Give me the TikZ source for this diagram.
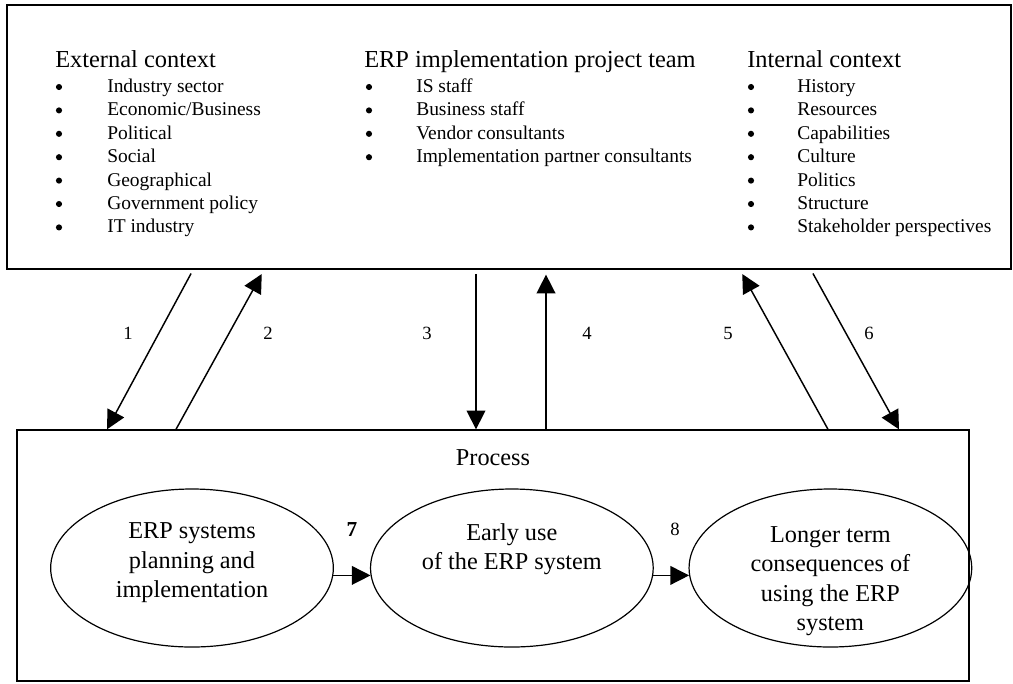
\documentclass[tikz,border=0pt]{standalone}
\usepackage{fontspec}
\setmainfont{Liberation Serif}
\usetikzlibrary{arrows.meta,positioning,fit,shapes.geometric}

\tikzset{
  frame/.style={draw=black,line width=1.4pt,inner sep=0pt},
  head/.style={font=\fontsize{18.3}{22}\selectfont,inner sep=0pt,anchor=base west},
  item/.style={font=\fontsize{14.6}{17.5}\selectfont,inner sep=0pt,anchor=base west},
  dot/.style={circle,fill=black,inner sep=0pt,minimum size=4.6pt},
  stage/.style={draw,ellipse,line width=0.9pt,minimum width=212pt,minimum height=118.5pt,inner sep=0pt},
  stagetext/.style={font=\fontsize{18.2}{22.1}\selectfont,align=center,inner sep=0pt},
  link/.style={line width=1.1pt,-{Triangle[length=14pt,width=14pt]}},
  num/.style={font=\fontsize{14}{16}\selectfont,inner sep=0pt}
}

\begin{document}
\begin{tikzpicture}[x=0.75pt,y=-0.75pt]
  \useasboundingbox (0,0) rectangle (1013,683);

  % context box and its three lists
  \node[frame,fit={(7,5) (1011,269)}] (ctx) {};
  \node[head] (ext) at (55,67) {External context};
  \foreach \t [count=\i] in {Industry sector,Economic/Business,Political,Social,
      Geographical,Government policy,IT industry}{
    \node[dot] (ext-b\i) at (59,63.6+23.4*\i) {};
    \node[item] (ext-\i) at (107,69.1+23.4*\i) {\t};
  }
  \node[head] (team) at (364,67) {ERP implementation project team};
  \foreach \t [count=\i] in {IS staff,Business staff,Vendor consultants,
      Implementation partner consultants}{
    \node[dot] (team-b\i) at (369,63.6+23.4*\i) {};
    \node[item] (team-\i) at (416,69.1+23.4*\i) {\t};
  }
  \node[head] (int) at (747,67) {Internal context};
  \foreach \t [count=\i] in {History,Resources,Capabilities,Culture,Politics,
      Structure,Stakeholder perspectives}{
    \node[dot] (int-b\i) at (751,63.6+23.4*\i) {};
    \node[item] (int-\i) at (797,69.1+23.4*\i) {\t};
  }

  % process box
  \node[frame,line width=1pt,fit={(17,430) (969,681)}] (proc) {};
  \node[stagetext,anchor=base] (proc-lbl) at (493,465) {Process};
  \node[stage] (plan) at (192,568) {};
  \node[stage,right=27pt of plan] (early) {};
  \node[stage,right=26pt of early] (later) {};
  \node[stagetext] (plan-t) at ([yshift=3.75pt]plan.center)
    {ERP systems\\planning and\\implementation};
  \node[stagetext] (early-t) at ([yshift=14.25pt]early.center)
    {Early use\\of the ERP system};
  \node[stagetext] (later-t) at ([yshift=-9.75pt]later.center)
    {Longer term\\consequences of\\using the ERP\\system};

  % links between context and process
  \draw[link,shorten <=3pt] (193,0 |- ctx.south) -- (107,0 |- proc.north);
  \draw[link,shorten >=3.5pt] (176,0 |- proc.north) -- (264,0 |- ctx.south);
  \draw[link,shorten <=3pt] (476,0 |- ctx.south) -- (476,0 |- proc.north);
  \draw[link,shorten >=3.5pt] (546,0 |- proc.north) -- (546,0 |- ctx.south);
  \draw[link,shorten >=3.5pt] (828,0 |- proc.north) -- (740,0 |- ctx.south);
  \draw[link,shorten <=3pt] (811,0 |- ctx.south) -- (899,0 |- proc.north);
  \foreach \n/\x in {1/128,2/268,3/427,4/587,5/728,6/869}
    \node[num] (n\n) at (\x,333) {\n};

  % links between stages
  \draw[link] (plan.-3.7) -- (early.183.7);
  \draw[link] (early.-3.7) -- (later.183.7);
  \node[num,font=\bfseries\fontsize{16}{18}\selectfont] (n7) at (352,530) {7};
  \node[num] (n8) at (675,529) {8};
\end{tikzpicture}
\end{document}
